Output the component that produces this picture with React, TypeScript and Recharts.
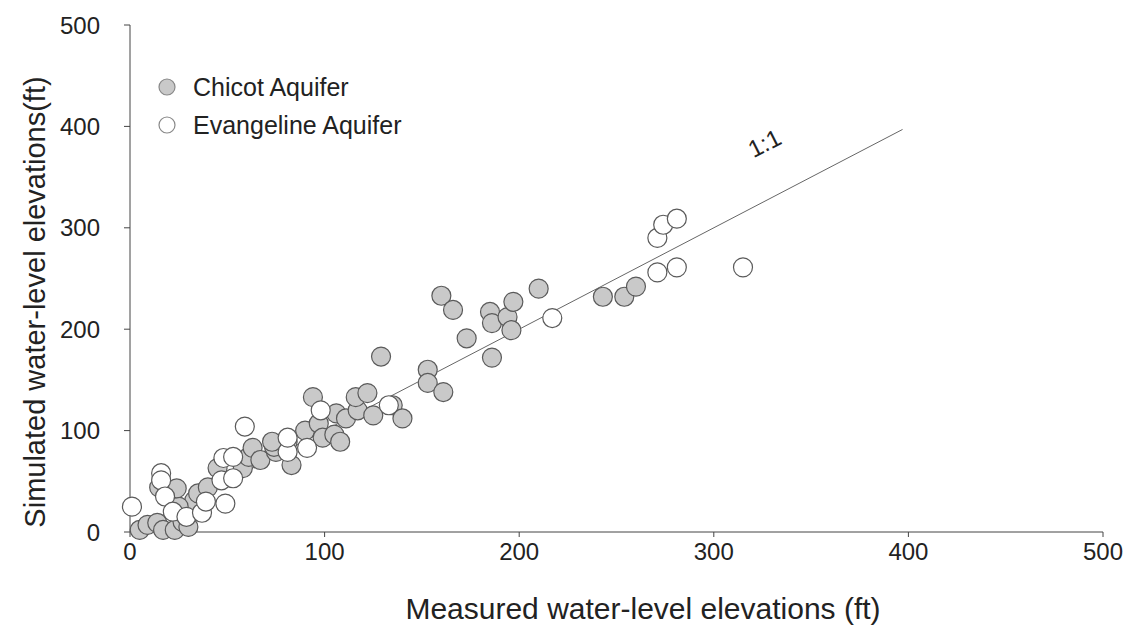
import {
  ReferenceDot,
  ReferenceLine,
  Scatter,
  ScatterChart,
  XAxis,
  YAxis,
} from "recharts"

const chicotMeasured = [
  5, 9, 14, 17, 23, 27, 31, 33, 25, 24, 15, 35, 40, 45, 58, 61, 63, 67, 75, 74,
  81, 83, 90, 94, 97, 99, 105, 106, 108, 111, 117, 116, 122, 125, 129, 135, 140,
  153, 153, 161, 160, 166, 173, 185, 186, 186, 194, 196, 197, 210, 243, 254, 260,
  73, 30,
]
const chicotSimulated = [
  2, 7, 9, 2, 2, 10, 22, 31, 25, 43, 44, 38, 44, 63, 63, 74, 83, 71, 79, 84, 89,
  66, 100, 133, 107, 93, 96, 117, 89, 112, 120, 133, 137, 115, 173, 125, 112,
  160, 147, 138, 233, 219, 191, 217, 206, 172, 212, 199, 227, 240, 232, 232, 242,
  89, 5,
]

const evangelineMeasured = [
  1, 16, 16, 18, 22, 29, 37, 39, 47, 48, 53, 53, 49, 59, 81, 81, 91, 98, 133,
  217, 271, 281, 315, 271, 274, 281,
]
const evangelineSimulated = [
  25, 58, 51, 35, 20, 15, 19, 30, 51, 73, 74, 53, 28, 104, 79, 93, 83, 120, 125,
  211, 256, 261, 261, 290, 303, 309,
]

const axisTicks = [0, 100, 200, 300, 400, 500]
const oneToOneEnd = 397

const chicot = chicotMeasured.map((x, i) => ({ x, y: chicotSimulated[i] }))
const evangeline = evangelineMeasured.map((x, i) => ({ x, y: evangelineSimulated[i] }))

const FONT = "'Liberation Sans', Arial, sans-serif"
const GRAY = "#c9c9c9"
const EDGE = "#5a5a5a"

const Dot = (fill: string) => (p: any) =>
  <circle cx={p.cx} cy={p.cy} r={9.5} fill={fill} stroke={EDGE} strokeWidth={1.2} />

function LegendBox() {
  const rows = [
    { name: "Chicot Aquifer", fill: GRAY },
    { name: "Evangeline Aquifer", fill: "#ffffff" },
  ]
  return (
    <div
      style={{
        position: "absolute",
        left: 157,
        top: 68,
        fontFamily: FONT,
        fontSize: 25,
        color: "#222",
      }}
    >
      {rows.map((r) => (
        <div key={r.name} style={{ display: "flex", alignItems: "center", height: 38 }}>
          <svg width={36} height={20}>
            <circle cx={10} cy={10} r={8} fill={r.fill} stroke="#888" strokeWidth={1.2} />
          </svg>
          <span>{r.name}</span>
        </div>
      ))}
    </div>
  )
}

export default function App() {
  return (
    <div style={{ position: "absolute", left: 0, top: 0, width: 1124, height: 632, background: "#fff" }}>
      <ScatterChart
        width={1124}
        height={632}
        margin={{ top: 25, right: 21, bottom: 0, left: 0 }}
      >
        <XAxis
          type="number"
          dataKey="x"
          domain={[0, 500]}
          ticks={axisTicks}
          height={100}
          stroke="#444"
          tickSize={5}
          tickMargin={6}
          tick={{ fill: "#222", fontSize: 24, fontFamily: FONT }}
          label={() => (
            <text x={643} y={619} textAnchor="middle" fill="#222" fontSize={30} fontFamily={FONT}>
              Measured water-level elevations (ft)
            </text>
          )}
        />
        <YAxis
          type="number"
          dataKey="y"
          domain={[0, 500]}
          ticks={axisTicks}
          width={130}
          stroke="#444"
          tickSize={6}
          tickMargin={24}
          tick={{ fill: "#222", fontSize: 24, fontFamily: FONT }}
          label={() => (
            <text
              x={45}
              y={302}
              transform="rotate(-90 45 302)"
              textAnchor="middle"
              fill="#222"
              fontSize={29}
              fontFamily={FONT}
            >
              Simulated water-level elevations(ft)
            </text>
          )}
        />
        <ReferenceLine
          segment={[
            { x: 0, y: 0 },
            { x: oneToOneEnd, y: oneToOneEnd },
          ]}
          stroke="#666"
          strokeWidth={1}
        />
        <ReferenceDot
          x={328}
          y={376}
          r={0}
          shape={(p: any) => (
            <text
              x={p.cx}
              y={p.cy}
              transform={`rotate(-27 ${p.cx} ${p.cy})`}
              textAnchor="middle"
              fill="#222"
              fontSize={24}
              fontFamily={FONT}
            >
              1:1
            </text>
          )}
        />
        <Scatter
          name="Chicot Aquifer"
          data={chicot}
          shape={Dot(GRAY)}
          isAnimationActive={false}
        />
        <Scatter
          name="Evangeline Aquifer"
          data={evangeline}
          shape={Dot("#ffffff")}
          isAnimationActive={false}
        />
      </ScatterChart>
      <LegendBox />
    </div>
  )
}
